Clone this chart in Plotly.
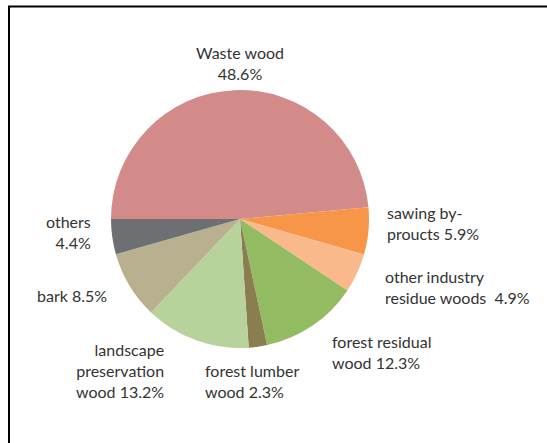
import plotly.graph_objects as go

categories = ["Waste wood", "sawing by-proucts", "other industry residue woods",
              "forest residual wood", "forest lumber wood",
              "landscape preservation wood", "bark", "others"]
values = [48.6, 5.9, 4.9, 12.3, 2.3, 13.2, 8.5, 4.4]
label_names = ["Waste wood<br>", "sawing by-<br>proucts ", "other industry<br>residue woods &nbsp;",
               "forest residual<br>wood ", "forest lumber<br>wood ",
               "landscape<br>preservation<br>wood ", "bark ", "others<br>"]
colors = ["#D28B89", "#F79548", "#F9B98A", "#93BB62", "#8A7E50",
          "#B7D29A", "#B8B08E", "#6C7073"]

W, H = 547, 443
cx, cy, r = 240, 219, 129

fig = go.Figure(go.Pie(
    labels=categories, values=values, sort=False, direction="clockwise",
    rotation=270, marker=dict(colors=colors, line=dict(width=0)),
    textinfo="none", hoverinfo="label+percent", showlegend=False,
    domain=dict(x=[(cx - r) / W, (cx + r) / W], y=[(H - cy - r) / H, (H - cy + r) / H]),
))

# label positions (pixels): x, y of block center, anchor
pos = [
    (240, 63, "center"),
    (385, 223, "left"),
    (383, 287, "left"),
    (330, 352, "left"),
    (203, 381, "left"),
    (166, 370, "right"),
    (109, 295, "right"),
    (93, 232, "right"),
]
for name, v, (x, y, anc) in zip(label_names, values, pos):
    fig.add_annotation(
        x=x / W, y=1 - y / H, xref="paper", yref="paper",
        text=f"{name}{v}%", showarrow=False, xanchor=anc, yanchor="middle",
        align=anc, font=dict(family="Lato", size=16, color="#333333"),
    )

fig.add_shape(type="line", xref="paper", yref="paper",
              x0=9 / W, x1=9 / W, y0=0, y1=1 - 6 / H,
              line=dict(color="black", width=2))
fig.add_shape(type="line", xref="paper", yref="paper",
              x0=8 / W, x1=1, y0=1 - 6.5 / H, y1=1 - 6.5 / H,
              line=dict(color="black", width=2))

fig.update_layout(width=W, height=H, margin=dict(l=0, r=0, t=0, b=0),
                  paper_bgcolor="white", plot_bgcolor="white")
fig.write_html("out.html")
